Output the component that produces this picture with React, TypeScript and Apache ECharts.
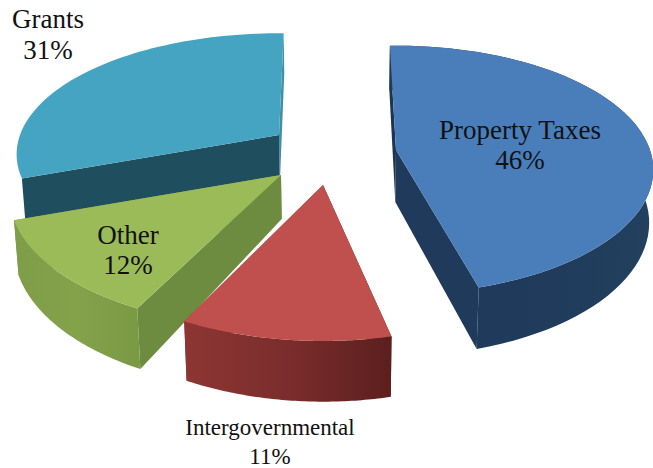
import React, { useEffect, useRef } from "react";
import * as echarts from "echarts";

// Revenue shares, clockwise from the top of the pie.
const categories = ["Property Taxes", "Intergovernmental", "Other", "Grants"];
const shareValues = [46, 11, 12, 31];
const pieStartAngle = -1.8;

// Perspective of the disc and the point the extruded walls lean towards.
const perspective = 0.16;
const vanishX = 343;
const vanishLean = 0.015;

// How each exploded slice sits on the page.
const sliceAnchors = [
  { x: 396, y: 150, a: 254, b: 121, turn: 0.2, depthApex: 52, depthRim: 52, showRim: true },
  { x: 323, y: 185, a: 263, b: 131, turn: 3.5, depthApex: 51, depthRim: 51, showRim: true },
  { x: 281, y: 175, a: 268, b: 129, turn: 4, depthApex: 44, depthRim: 52, showRim: true },
  { x: 279, y: 135, a: 259, b: 118, turn: 3, depthApex: 50, depthRim: 46, showRim: false },
];

const sliceColors = [
  { top: "#4a7ebb", rim: ["#1f3a5a", "#1f3a5a", "#23405f"], startWall: "#1c3554", endWall: "#1f3a5a" },
  { top: "#c0504d", rim: ["#8d3634", "#7a2d2c", "#5c1f1e"], startWall: "#5c1f1e", endWall: "#8d3634" },
  { top: "#9bbb59", rim: ["#7f9d48", "#83a24a", "#7a9943"], startWall: "#6e8c3f", endWall: "#7f9d48" },
  { top: "#46a4c3", rim: ["#1f4e5f", "#1f4e5f", "#1f4e5f"], startWall: "#1f4e5f", endWall: "#3f8fa9" },
];

const labelPlacement = [
  { x: 520, y: 145, size: 27, lineHeight: 30 },
  { x: 270, y: 442, size: 23, lineHeight: 29 },
  { x: 128, y: 250, size: 27, lineHeight: 30 },
  { x: 48, y: 34, size: 27, lineHeight: 31 },
];

type Anchor = (typeof sliceAnchors)[number];

// Projects a point on the rim of a slice, angle in degrees clockwise from the top.
function rimPoint(g: Anchor, angle: number) {
  const t = ((angle + g.turn) * Math.PI) / 180;
  const u = Math.sin(t);
  const v = -Math.cos(t);
  const s = 1 / (1 - perspective * v);
  return { x: g.x + g.a * u * s, y: g.y + g.b * v * s, s };
}

function dropped(x: number, y: number, depth: number): number[] {
  return [x + ((vanishX - x) * vanishLean * depth) / 60, y + depth];
}

function renderSlice(params: any, api: any) {
  const index = params.dataIndex;
  const value = api.value(0);
  const total = shareValues.reduce((sum, v) => sum + v, 0);
  const before = shareValues.slice(0, index).reduce((sum, v) => sum + v, 0);
  const from = pieStartAngle + (before / total) * 360;
  const sweep = (value / total) * 360;
  const g = sliceAnchors[index];
  const c = sliceColors[index];

  const rim = [];
  const steps = 64;
  for (let i = 0; i <= steps; i++) rim.push(rimPoint(g, from + (sweep * i) / steps));
  const rimTop = rim.map((p) => [p.x, p.y]);
  const rimBottom = rim.map((p) => dropped(p.x, p.y, g.depthRim * p.s));
  const apexBottom = dropped(g.x, g.y, g.depthApex);

  const wall = (points: number[][], fill: any) => ({
    type: "polygon",
    shape: { points },
    style: { fill },
    silent: true,
  });

  const place = labelPlacement[index];
  const children: any[] = [
    wall([[g.x, g.y], rimTop[steps], rimBottom[steps], apexBottom], c.endWall),
    wall([[g.x, g.y], rimTop[0], rimBottom[0], apexBottom], c.startWall),
  ];
  if (g.showRim) {
    children.push(
      wall(
        [...rimTop, ...rimBottom.slice().reverse()],
        new echarts.graphic.LinearGradient(0, 0, 1, 0, [
          { offset: 0, color: c.rim[0] },
          { offset: 0.5, color: c.rim[1] },
          { offset: 1, color: c.rim[2] },
        ])
      )
    );
  }
  children.push(wall([[g.x, g.y], ...rimTop], c.top), {
    type: "text",
    z2: 10,
    style: {
      x: place.x,
      y: place.y,
      text: `${categories[index]}\n${value}%`,
      fill: "#111111",
      font: `${place.size}px "Liberation Serif"`,
      lineHeight: place.lineHeight,
      align: "center",
      verticalAlign: "middle",
    },
  });
  return { type: "group", children };
}

export default function App() {
  const ref = useRef<HTMLDivElement>(null);
  useEffect(() => {
    const chart = echarts.init(ref.current!, undefined, { renderer: "svg" });
    // Slices overlap front to back, so they are stacked by a descending z.
    chart.setOption({
      animation: false,
      backgroundColor: "#ffffff",
      series: categories.map((name, i) => ({
        type: "custom",
        name,
        coordinateSystem: "none",
        silent: true,
        z: [5, 4, 3, 2][i],
        renderItem: (params: any, api: any) =>
          renderSlice({ ...params, dataIndex: i }, api),
        data: [[shareValues[i]]],
      })),
    });
    return () => chart.dispose();
  }, []);
  return (
    <div
      ref={ref}
      style={{ position: "absolute", left: 0, top: 0, width: 653, height: 468 }}
    />
  );
}
